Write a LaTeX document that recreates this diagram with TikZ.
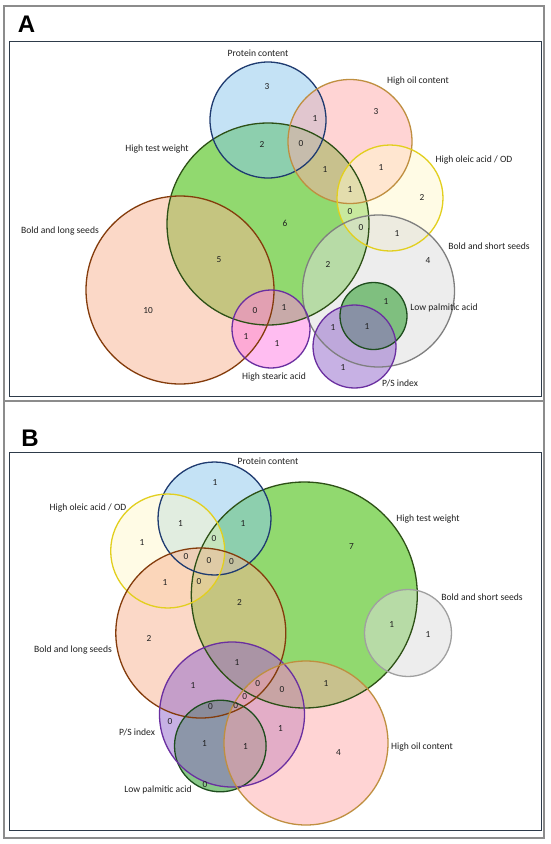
\documentclass[tikz,border=0pt]{standalone}
\usepackage{fontspec}
\setmainfont{Carlito}
\newfontfamily\panelfont{Liberation Sans}
\definecolor{txt}{HTML}{202020}
\definecolor{frameGray}{HTML}{8C8C8C}
\definecolor{boxLine}{HTML}{2E3B4A}
\definecolor{cGreen}{RGB}{73,192,15}
\definecolor{cBlue}{RGB}{139,199,237}
\definecolor{cPink}{RGB}{255,171,171}
\definecolor{cCream}{RGB}{255,249,205}
\definecolor{cSalmon}{RGB}{249,179,145}
\definecolor{cGray}{RGB}{221,221,221}
\definecolor{cMagenta}{RGB}{255,125,228}
\definecolor{cLowPalm}{RGB}{18,146,18}
\definecolor{cPS}{RGB}{145,101,203}
\definecolor{oGreen}{HTML}{2D5016}
\definecolor{oBlue}{HTML}{1F3B70}
\definecolor{oOil}{HTML}{BF8F40}
\definecolor{oOleic}{HTML}{E2CF1E}
\definecolor{oSalmon}{HTML}{843C0C}
\definecolor{oGray}{HTML}{7F7F7F}
\definecolor{oGrayB}{HTML}{A0A0A0}
\definecolor{oPurple}{HTML}{6A2FA0}
\definecolor{oLowPalm}{HTML}{1E4D1E}
\begin{document}
\begin{tikzpicture}[x=1pt,y=-1pt,
  lbl/.style={font=\fontsize{9.6}{11}\selectfont, text=txt, inner sep=0pt},
  num/.style={font=\fontsize{9.3}{11}\selectfont, text=txt, inner sep=0pt},
  panel/.style={font=\panelfont\fontsize{24}{26}\selectfont\bfseries, text=black, inner sep=0pt},
  ring/.style={line width=1.3pt},
  soft/.style={fill opacity=0.5},
  softg/.style={fill opacity=0.6}]
\useasboundingbox (0,0) rectangle (550,844);
\fill[white] (0,0) rectangle (550,844);
% frames
\draw[frameGray, line width=1.2pt] (4,6) rectangle (544,838);
\draw[frameGray, line width=1.2pt] (4,401) -- (544,401);
\draw[boxLine, line width=0.9pt] (9,41) rectangle (541,396);
\draw[boxLine, line width=0.9pt] (9,452) rectangle (541,830);
\node[panel] (pA) at (26.5,24.5) {A};
\node[panel] (pB) at (30,438.5) {B};

% ---------- Panel A fills ----------
\fill[cGreen, softg] (268,224) circle[radius=101];
\fill[cBlue, soft] (268,120) circle[radius=58];
\fill[cPink, soft] (350,141.5) circle[radius=62];
\fill[cCream, soft] (390,198) circle[radius=53];
\fill[cSalmon, soft] (180,290) circle[radius=94];
\fill[cGray, soft] (378.5,291) circle[radius=76];
\fill[cMagenta, soft] (271,329) circle[radius=39];
\fill[cLowPalm, soft] (373.5,316) circle[radius=33.5];
\fill[cPS, soft] (354.5,346.5) circle[radius=41.5];
% Panel A outlines
\draw[oGreen, ring] (268,224) circle[radius=101];
\draw[oBlue, ring] (268,120) circle[radius=58];
\draw[oOil, ring] (350,141.5) circle[radius=62];
\draw[oOleic, ring] (390,198) circle[radius=53];
\draw[oSalmon, ring] (180,290) circle[radius=94];
\draw[oGray, ring] (378.5,291) circle[radius=76];
\draw[oPurple, ring] (271,329) circle[radius=39];
\draw[oLowPalm, ring] (373.5,316) circle[radius=33.5];
\draw[oPurple, ring] (354.5,346.5) circle[radius=41.5];

% Panel A labels
\node[lbl] (laProt) at (258,53) {Protein content};
\node[lbl] (laOil) at (418,81) {High oil content};
\node[lbl] (laTW) at (157,149) {High test weight};
\node[lbl] (laOle) at (474,160) {High oleic acid / OD};
\node[lbl] (laBL) at (60,231) {Bold and long seeds};
\node[lbl] (laBS) at (489,246) {Bold and short seeds};
\node[lbl] (laLP) at (444,308) {Low palmitic acid};
\node[lbl] (laHS) at (274,377) {High stearic acid};
\node[lbl] (laPS) at (400,383) {P/S index};

% Panel A numbers
\node[num] (na1) at (267,87) {3};
\node[num] (na2) at (262,144) {2};
\node[num] (na3) at (219,260) {5};
\node[num] (na4) at (148,311) {10};
\node[num] (na5) at (255,311) {0};
\node[num] (na6) at (246,337) {1};
\node[num] (na7) at (315,119) {1};
\node[num] (na8) at (376,112) {3};
\node[num] (na9) at (301,144) {0};
\node[num] (na10) at (325,170) {1};
\node[num] (na11) at (381,168) {1};
\node[num] (na12) at (350,190) {1};
\node[num] (na13) at (422,197) {2};
\node[num] (na14) at (350,212) {0};
\node[num] (na15) at (285,223) {6};
\node[num] (na16) at (361,228) {0};
\node[num] (na17) at (397,234) {1};
\node[num] (na18) at (328,264) {2};
\node[num] (na19) at (428,261) {4};
\node[num] (na20) at (284,308) {1};
\node[num] (na21) at (386,302) {1};
\node[num] (na22) at (333,328) {1};
\node[num] (na23) at (367,327) {1};
\node[num] (na24) at (277,344) {1};
\node[num] (na25) at (343,368) {1};

% ---------- Panel B fills ----------
\fill[cGreen, softg] (304.3,595) circle[radius=113];
\fill[cBlue, soft] (214.5,518.5) circle[radius=56.5];
\fill[cCream, soft] (167.7,551) circle[radius=57];
\fill[cSalmon, soft] (200.8,633) circle[radius=85];
\fill[cGray, soft] (408,633) circle[radius=43.5];
\fill[cLowPalm, soft] (220.3,746) circle[radius=45.8];
\fill[cPS, soft] (232,714.5) circle[radius=72.5];
\fill[cPink, soft] (306,743) circle[radius=82];
% Panel B outlines
\draw[oGreen, ring] (304.3,595) circle[radius=113];
\draw[oBlue, ring] (214.5,518.5) circle[radius=56.5];
\draw[oOleic, ring] (167.7,551) circle[radius=57];
\draw[oSalmon, ring] (200.8,633) circle[radius=85];
\draw[oGrayB, ring] (408,633) circle[radius=43.5];
\draw[oLowPalm, ring] (220.3,746) circle[radius=45.8];
\draw[oPurple, ring] (232,714.5) circle[radius=72.5];
\draw[oOil, ring] (306,743) circle[radius=82];

% Panel B labels
\node[lbl] (lbProt) at (268,461) {Protein content};
\node[lbl] (lbOle) at (88,508) {High oleic acid / OD};
\node[lbl] (lbTW) at (428,519) {High test weight};
\node[lbl] (lbBS) at (482,597) {Bold and short seeds};
\node[lbl] (lbBL) at (73,650) {Bold and long seeds};
\node[lbl] (lbPS) at (137,732) {P/S index};
\node[lbl] (lbOil) at (422,747) {High oil content};
\node[lbl] (lbLP) at (158,790) {Low palmitic acid};

% Panel B numbers
\node[num] (nb1) at (215,483) {1};
\node[num] (nb2) at (180.6,523) {1};
\node[num] (nb3) at (243,523) {1};
\node[num] (nb4) at (142,542) {1};
\node[num] (nb5) at (214,539) {0};
\node[num] (nb6) at (186,557) {0};
\node[num] (nb7) at (209,561) {0};
\node[num] (nb8) at (231.5,562) {0};
\node[num] (nb9) at (351.5,547) {7};
\node[num] (nb10) at (165,582) {1};
\node[num] (nb11) at (199,582) {0};
\node[num] (nb12) at (239.6,602) {2};
\node[num] (nb13) at (391.8,624) {1};
\node[num] (nb14) at (428,634) {1};
\node[num] (nb15) at (149,638) {2};
\node[num] (nb16) at (237,662) {1};
\node[num] (nb17) at (193,685) {1};
\node[num] (nb18) at (257.8,684) {0};
\node[num] (nb19) at (282,690) {0};
\node[num] (nb20) at (326,683) {1};
\node[num] (nb21) at (244.8,697) {0};
\node[num] (nb22) at (210.5,707) {0};
\node[num] (nb23) at (235.7,706) {0};
\node[num] (nb24) at (170,722) {0};
\node[num] (nb25) at (280.6,728) {1};
\node[num] (nb26) at (204.5,743) {1};
\node[num] (nb27) at (245.5,746) {1};
\node[num] (nb28) at (338.5,753) {4};
\node[num] (nb29) at (205,785) {0};
\end{tikzpicture}
\end{document}
